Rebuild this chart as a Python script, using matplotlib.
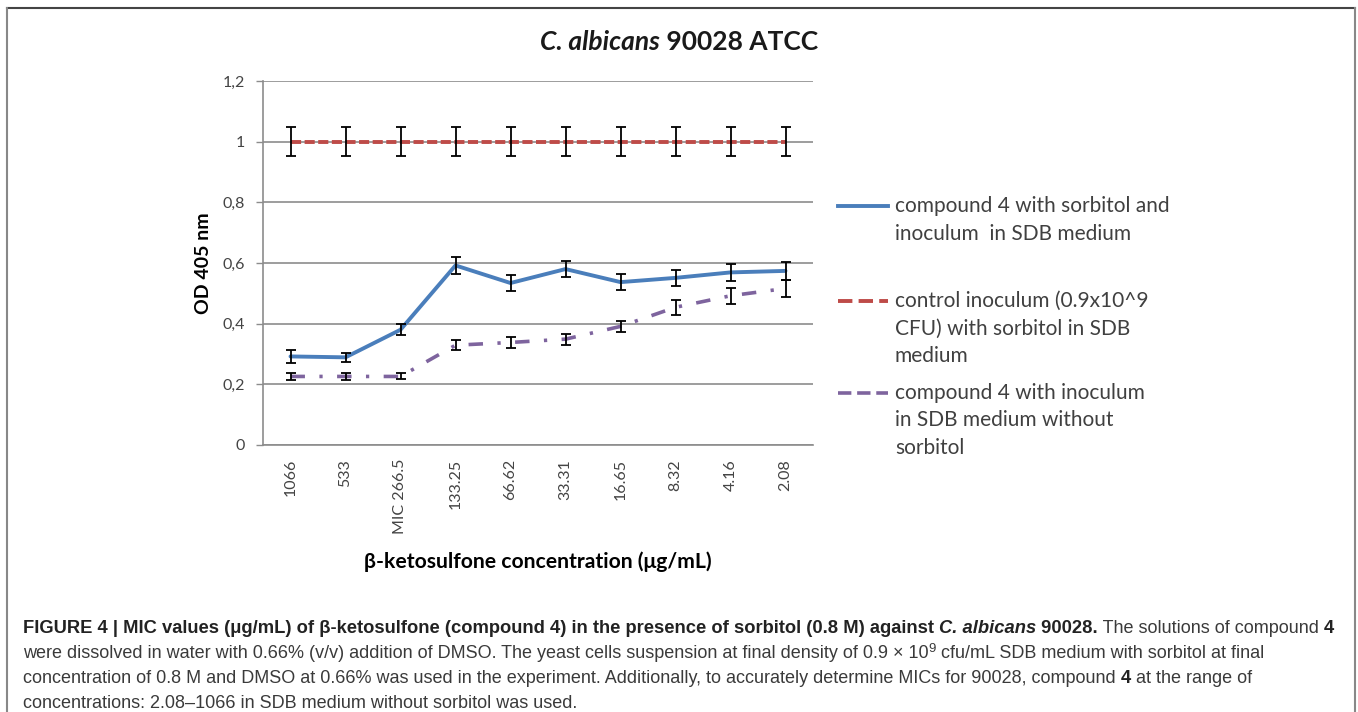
import matplotlib
matplotlib.use('Agg')
import matplotlib.pyplot as plt
from matplotlib.lines import Line2D
import numpy as np

# values
conc_labels = ['1066', '533', 'MIC 266.5', '133.25', '66.62', '33.31',
               '16.65', '8.32', '4.16', '2.08']
with_sorbitol = [0.292, 0.289, 0.380, 0.592, 0.534, 0.580, 0.537, 0.551, 0.569, 0.574]
with_sorbitol_err = [0.021, 0.014, 0.019, 0.027, 0.025, 0.027, 0.027, 0.027, 0.028, 0.030]
control = [1.0, 1.0, 1.0, 1.0, 1.0, 1.0, 1.0, 1.0, 1.0, 1.0]
control_err = [0.047, 0.047, 0.047, 0.047, 0.047, 0.047, 0.047, 0.047, 0.047, 0.047]
no_sorbitol = [0.226, 0.226, 0.226, 0.329, 0.338, 0.349, 0.391, 0.454, 0.492, 0.516]
no_sorbitol_err = [0.012, 0.012, 0.010, 0.016, 0.017, 0.018, 0.017, 0.025, 0.026, 0.028]
yticks = [0, 0.2, 0.4, 0.6, 0.8, 1.0, 1.2]
ytick_labels = ['0', '0,2', '0,4', '0,6', '0,8', '1', '1,2']

legend_labels = [
    ['compound 4 with sorbitol and', 'inoculum  in SDB medium'],
    ['control inoculum (0.9x10^9', 'CFU) with sorbitol in SDB', 'medium'],
    ['compound 4 with inoculum', 'in SDB medium without', 'sorbitol'],
]

W, H = 1358, 712
CHART_FONT = 'Lato'
CAP_FONT = 'Liberation Sans'

fig = plt.figure(figsize=(W / 100, H / 100), dpi=100)
renderer = fig.canvas.get_renderer()


def fx(px):
    return px / W


def fy(py):
    return 1 - py / H


ax = fig.add_axes([fx(263), fy(445), 550 / W, 364 / H])
x = np.arange(len(conc_labels))

blue = '#4A7EBB'
red = '#BE4B48'
purple = '#7E649E'
l1, = ax.plot(x, with_sorbitol, color=blue, lw=2.8, zorder=3, solid_capstyle='round')
l2, = ax.plot(x, control, color=red, lw=2.8, dashes=(2.6, 0.9), zorder=3)
l3, = ax.plot(x, no_sorbitol, color=purple, lw=2.6, dashes=(4.0, 4.0, 0.9, 4.0), zorder=3)
lines = [l1, l2, l3]

for vals, errs in [(with_sorbitol, with_sorbitol_err), (control, control_err),
                   (no_sorbitol, no_sorbitol_err)]:
    ax.errorbar(x, vals, yerr=errs, fmt='none', ecolor='black', elinewidth=1.3,
                capsize=3.8, capthick=1.3, zorder=4)

ax.set_xlim(-0.5, len(conc_labels) - 0.5)
ax.set_ylim(0, 1.2)
ax.set_yticks(yticks)
ax.set_yticklabels(ytick_labels, fontfamily=CHART_FONT, fontsize=11.5, color='#444444')
ax.set_xticks(x)
ax.set_xticklabels(conc_labels, rotation=90, fontfamily=CHART_FONT, fontsize=11.5,
                   color='#444444')
ax.tick_params(axis='x', length=0, pad=10)
ax.tick_params(axis='y', length=5, width=1, color='#8C8C8C', pad=8)
ax.grid(axis='y', color='#8C8C8C', lw=1.2)
ax.set_axisbelow(True)
for s in ['top', 'right']:
    ax.spines[s].set_visible(False)
for s in ['left', 'bottom']:
    ax.spines[s].set_color('#8C8C8C')
    ax.spines[s].set_linewidth(1.2)

ax.set_ylabel('OD 405 nm', fontfamily=CHART_FONT, fontweight='bold', fontsize=14)
ax.yaxis.set_label_coords((212 - 263) / 550, 0.5)
ax.set_xlabel('β-ketosulfone concentration (μg/mL)', fontfamily=CHART_FONT,
              fontweight='bold', fontsize=15.2)
ax.xaxis.label.set_va('center')
ax.xaxis.set_label_coords(0.5, (445 - 562) / 364)


def run_width(s, kw):
    a = fig.text(0, 0, '|' + s + '|', **kw)
    b = fig.text(0, 0, '||', **kw)
    w = a.get_window_extent(renderer).width - b.get_window_extent(renderer).width
    a.remove()
    b.remove()
    return w


def draw_runs(px, py, runs, ha='left'):
    widths = [run_width(s, kw) for s, kw, dy in runs]
    if ha == 'center':
        px -= sum(widths) / 2
    for (s, kw, dy), w in zip(runs, widths):
        fig.text(fx(px), fy(py - dy), s, ha='left', va='baseline', **kw)
        px += w


# title
tkw = dict(fontfamily=CHART_FONT, fontweight='bold', fontsize=19, color='#1a1a1a')
draw_runs(679, 50, [('C. albicans', dict(tkw, fontstyle='italic'), 0),
                    (' 90028 ATCC', tkw, 0)], ha='center')

# legend
handle_y = [206, 301, 393]
for ln, lab, hy in zip(lines, legend_labels, handle_y):
    fig.add_artist(Line2D([fx(838), fx(888)], [fy(hy), fy(hy)], color=ln.get_color(),
                          lw=ln.get_linewidth(), linestyle=ln.get_linestyle(),
                          transform=fig.transFigure))
    for i, row in enumerate(lab):
        fig.text(fx(895), fy(hy + 6 + i * 27.5), row, fontfamily=CHART_FONT,
                 fontsize=15, color='#404040', va='baseline', ha='left')

# caption
n = dict(fontfamily=CAP_FONT, fontsize=13.0, color='#3a3a3a')
b = dict(n, fontweight='bold', fontsize=13.2, color='#222222')
bi = dict(b, fontstyle='italic')
sup = dict(n, fontsize=9.5)
caption = [
    [('FIGURE 4 | MIC values (μg/mL) of β-ketosulfone (compound 4) in the presence of '
      'sorbitol (0.8 M) against ', b, 0), ('C. albicans', bi, 0), (' 90028.', b, 0),
     (' The solutions of compound ', n, 0), ('4', b, 0)],
    [('were dissolved in water with 0.66% (v/v) addition of DMSO. The yeast cells '
      'suspension at final density of 0.9 × 10', n, 0), ('9', sup, 6),
     (' cfu/mL SDB medium with sorbitol at final', n, 0)],
    [('concentration of 0.8 M and DMSO at 0.66% was used in the experiment. Additionally, '
      'to accurately determine MICs for 90028, compound ', n, 0), ('4', b, 0),
     (' at the range of', n, 0)],
    [('concentrations: 2.08–1066 in SDB medium without sorbitol was used.', n, 0)],
]
for i, runs in enumerate(caption):
    draw_runs(23, 633 + i * 25, runs)

# outer frame
fig.add_artist(Line2D([fx(7), fx(1355)], [fy(8), fy(8)], color='#444444', lw=1.5,
                      transform=fig.transFigure))
for xp in [7, 1355]:
    fig.add_artist(Line2D([fx(xp), fx(xp)], [fy(8), fy(720)], color='#888888', lw=1.5,
                          transform=fig.transFigure))

fig.savefig('out.png', dpi=100)
